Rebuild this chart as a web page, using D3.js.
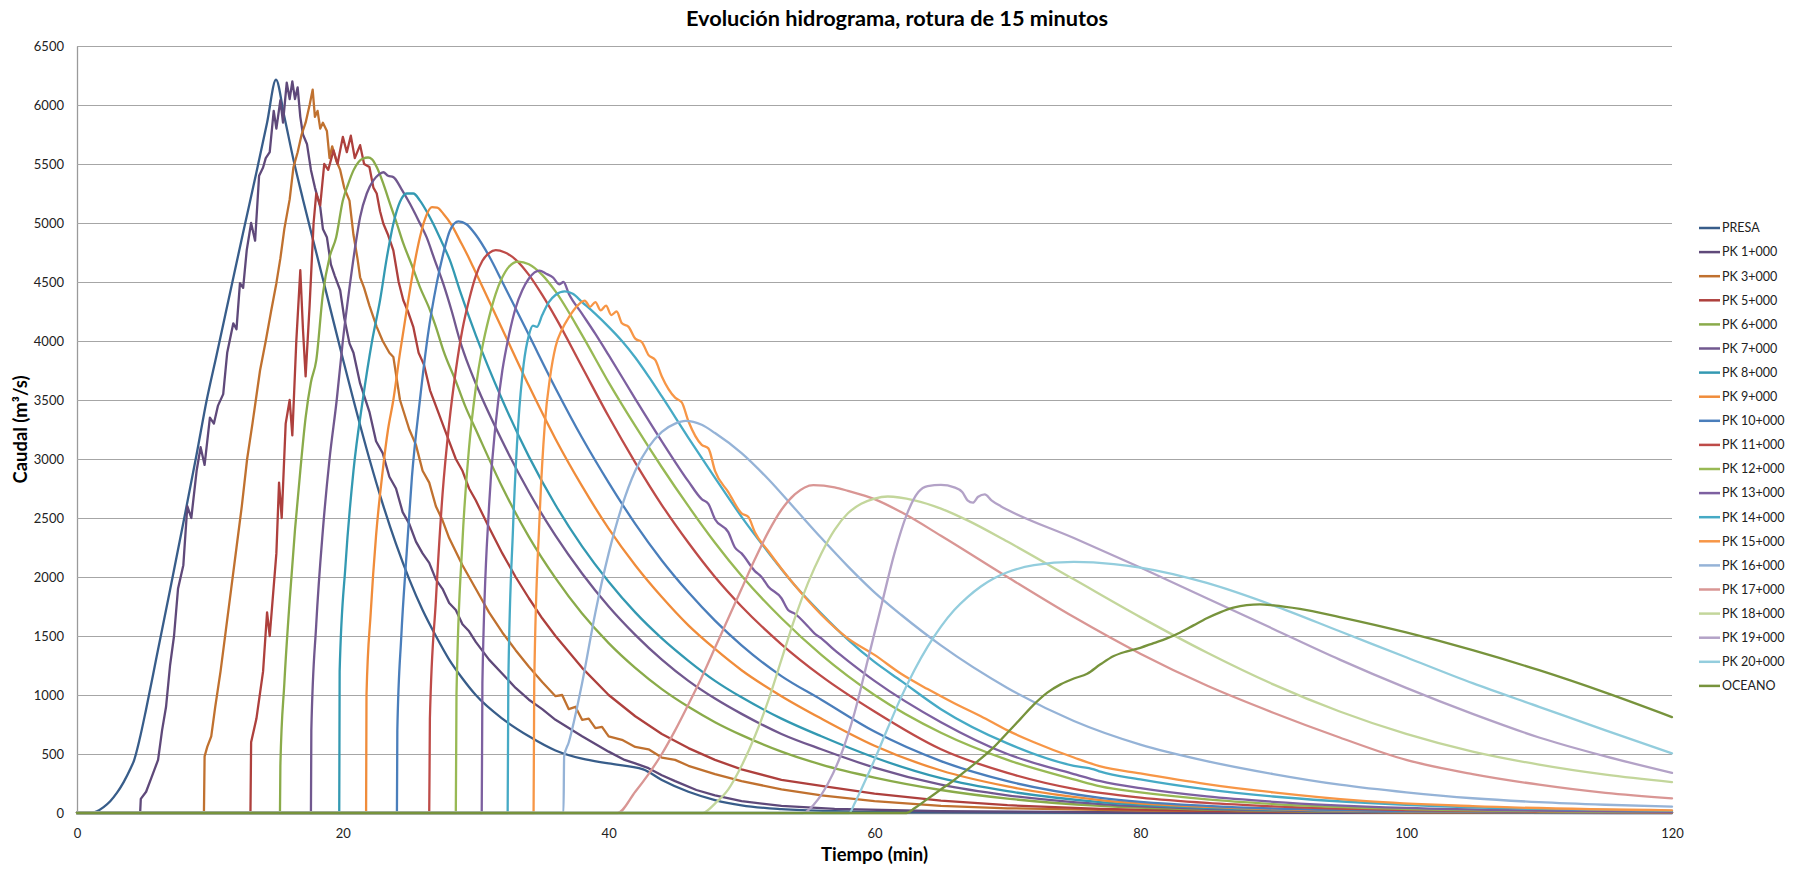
<!DOCTYPE html>
<html><head><meta charset="utf-8">
<script src="https://cdn.jsdelivr.net/npm/d3@7"></script>
<style>body{margin:0;background:#fff}svg{display:block}text{font-family:Lato,"Open Sans",sans-serif}</style>
</head><body><svg id="c" width="1800" height="872"></svg>
<script>
const chartTitle = "Evolución hidrograma, rotura de 15 minutos";
const xTitle = "Tiempo (min)";
const yTitle = "Caudal (m³/s)";
const xTickValues = [0,20,40,60,80,100,120];
const yTickValues = [0,500,1000,1500,2000,2500,3000,3500,4000,4500,5000,5500,6000,6500];
const seriesNames = ["PRESA","PK 1+000","PK 3+000","PK 5+000","PK 6+000","PK 7+000","PK 8+000","PK 9+000","PK 10+000","PK 11+000","PK 12+000","PK 13+000","PK 14+000","PK 15+000","PK 16+000","PK 17+000","PK 18+000","PK 19+000","PK 20+000","OCEANO"];

const presa = [[0,0],[1,0],[1.5,15],[2,50],[2.5,100],[3,170],[3.5,260],[4,370],[4.3,449],[4.7,620],[5.2,880],[6,1330],[7,1890],[8,2460],[9,3040],[9.76,3500],[10.5,3880],[11.5,4400],[12.5,4920],[13.5,5430],[14.3,5850],[14.97,6214],[15.6,5900],[16.3,5530],[17,5200],[18,4750],[19,4300],[20,3850],[20.8,3500],[22,3000],[23,2620],[24,2280],[25,1980],[26,1720],[27,1500],[28,1300],[29,1140],[30,1000],[32,800],[34,650],[36,530],[38,460],[40,420],[42.6,370],[44,280],[46,180],[48,110],[50,65],[53,32],[57,15],[65,5],[80,2],[120,0]];
const pk1 = [[0,0],[4.75,0],[4.8,120],[5.2,180],[5.6,300],[6.1,450],[6.4,700],[6.7,900],[7,1250],[7.3,1500],[7.6,1900],[8,2100],[8.3,2600],[8.6,2500],[9,2900],[9.3,3100],[9.6,2950],[10,3350],[10.3,3300],[10.6,3450],[11,3550],[11.3,3900],[11.76,4150],[12,4100],[12.26,4490],[12.5,4450],[12.77,4770],[13.1,5000],[13.4,4850],[13.7,5400],[14,5470],[14.2,5550],[14.5,5600],[14.8,5950],[15,5800],[15.3,6040],[15.5,5850],[15.78,6190],[16,6050],[16.2,6200],[16.4,6050],[16.6,6150],[16.8,5900],[17,5750],[17.3,5670],[17.6,5450],[17.9,5300],[18.3,5135],[18.5,4950],[18.8,4880],[19.1,4650],[19.4,4550],[19.8,4430],[20.1,4200],[20.5,3980],[20.8,3900],[21.3,3640],[22,3400],[22.5,3150],[23,3050],[23.5,2850],[24,2750],[24.5,2550],[25,2450],[25.5,2300],[26,2200],[26.5,2120],[27,1980],[27.5,1900],[28,1780],[28.5,1720],[29,1600],[29.5,1540],[30,1450],[31,1300],[32,1180],[33,1060],[34,960],[35,880],[36,790],[38,650],[40,520],[41.2,450],[42,420],[43,380],[44,320],[45,270],[46.6,195],[48,150],[50,100],[53,60],[57,35],[65,15],[80,5],[120,1]];
const pk3 = [[0,0],[9.55,0],[9.6,480],[9.8,560],[10.1,650],[10.4,900],[10.8,1200],[11.2,1550],[11.6,1900],[12,2250],[12.4,2600],[12.8,3000],[13.2,3300],[13.77,3750],[14.2,4000],[14.6,4250],[15,4490],[15.3,4700],[15.6,4950],[16,5200],[16.28,5470],[16.6,5600],[16.9,5750],[17.2,5850],[17.5,6000],[17.73,6130],[17.9,5900],[18.1,5950],[18.3,5800],[18.5,5850],[18.8,5780],[19,5550],[19.2,5650],[19.5,5530],[19.8,5450],[20.1,5300],[20.5,5190],[20.8,4900],[21.1,4700],[21.3,4540],[21.6,4450],[22,4300],[22.55,4120],[23,4000],[23.5,3900],[23.8,3865],[24.3,3500],[25,3250],[25.5,3120],[26,2900],[26.5,2800],[27,2600],[27.5,2480],[28,2330],[29,2100],[30,1900],[31,1700],[32,1530],[33,1380],[34,1240],[35,1110],[36,990],[36.5,1000],[37,880],[37.5,900],[38,790],[38.5,800],[39,720],[39.5,730],[40,650],[41,620],[42,560],[43,540],[44,470],[45,450],[46,400],[48,330],[50,270],[53,200],[56,150],[60,100],[65,60],[70,40],[80,20],[100,6],[120,2]];
const pk5 = [[0,0],[13.05,0],[13.1,600],[13.5,800],[14,1200],[14.3,1700],[14.5,1500],[15,2200],[15.2,2800],[15.4,2500],[15.7,3300],[16,3500],[16.2,3200],[16.5,4000],[16.8,4600],[17,4100],[17.2,3700],[17.5,4300],[17.8,5000],[18,5250],[18.3,5150],[18.6,5500],[18.9,5450],[19.3,5615],[19.6,5500],[20,5730],[20.3,5600],[20.6,5740],[20.9,5550],[21.3,5660],[21.6,5500],[22,5474],[22.3,5300],[22.55,5250],[22.8,5100],[23.05,4994],[23.4,4900],[23.8,4768],[24.2,4500],[24.55,4345],[24.9,4250],[25.3,4120],[25.7,3900],[26.1,3800],[26.56,3582],[27,3450],[27.5,3300],[28,3150],[28.5,3000],[29,2900],[29.5,2750],[30,2650],[31,2420],[32,2200],[33,2000],[34,1820],[35,1650],[36,1500],[38,1230],[40,1000],[42,820],[44,670],[46,550],[48,450],[50,370],[53,280],[56,230],[60,165],[65,105],[70,66],[77,35],[85,18],[100,5],[120,1]];
const pk6 = [[0,0],[15.27,0],[15.3,400],[15.6,1100],[16,1800],[16.4,2400],[16.8,2900],[17.2,3350],[17.6,3650],[18,3836],[18.5,4400],[19,4710],[19.5,4880],[20,5190],[20.4,5330],[20.8,5446],[21.2,5520],[21.5,5545],[21.9,5555],[22.2,5540],[22.55,5474],[23.05,5332],[23.55,5163],[24.05,5000],[24.55,4827],[25.2,4640],[25.8,4457],[26.56,4260],[27,4120],[27.56,3921],[28.57,3639],[29.2,3450],[30,3250],[32,2760],[34,2340],[36,1990],[38,1690],[40,1440],[42,1230],[44,1050],[46,900],[48,770],[50,660],[53,520],[56,410],[60,300],[65,195],[70,122],[77,60],[85,29],[100,8],[120,2]];
const pk7 = [[0,0],[17.6,0],[17.63,700],[18,1600],[18.5,2400],[19,3000],[19.54,3500],[20,4000],[20.5,4450],[21,4850],[21.3,5050],[21.8,5250],[22.3,5361],[22.7,5410],[23.05,5430],[23.4,5400],[23.8,5389],[24.4,5290],[25.05,5163],[25.7,5020],[26.3,4880],[26.9,4690],[27.56,4484],[28.2,4250],[28.8,4006],[29.5,3780],[30,3640],[32,3150],[34,2720],[36,2350],[38,2030],[40,1750],[42,1510],[44,1300],[46,1120],[48,970],[50,840],[53,670],[56,540],[60,385],[65,240],[70,150],[77,75],[85,36],[100,10],[120,2]];
const pk8 = [[0,0],[19.73,0],[19.76,1200],[20.2,2100],[20.8,2900],[21.5,3500],[22.2,4000],[22.8,4345],[23.3,4700],[23.8,4994],[24.3,5180],[24.8,5250],[25.3,5250],[25.8,5190],[26.3,5100],[26.8,4994],[27.4,4850],[28.06,4683],[28.8,4430],[30,4050],[32,3500],[34,3020],[36,2610],[38,2260],[40,1960],[42,1700],[44,1480],[46,1290],[48,1120],[50,980],[53,800],[56,650],[60,470],[65,295],[70,185],[77,92],[85,44],[100,12],[120,3]];
const pk9 = [[0,0],[21.75,0],[21.78,1000],[22.1,1700],[22.5,2350],[23,2900],[23.4,3250],[23.8,3500],[24.3,3900],[24.8,4260],[25.3,4600],[25.8,4880],[26.2,5040],[26.7,5135],[27.1,5130],[27.56,5079],[28.2,4980],[28.8,4853],[29.5,4700],[30,4580],[32,4100],[34,3620],[36,3170],[38,2770],[40,2410],[42,2100],[44,1830],[46,1590],[48,1390],[50,1210],[53,990],[56,800],[60,570],[65,360],[70,225],[77,110],[85,52],[100,14],[120,3]];
const pk10 = [[0,0],[24.07,0],[24.1,700],[24.4,1500],[24.8,2200],[25.2,2850],[25.8,3500],[26.4,4050],[27.06,4486],[27.6,4760],[28.06,4937],[28.7,5013],[29.3,4990],[30,4900],[31,4720],[32,4500],[34,4050],[36,3600],[38,3180],[40,2800],[42,2450],[44,2140],[46,1870],[48,1630],[50,1420],[53,1160],[56,960],[60,690],[65,440],[70,270],[77,128],[85,60],[100,16],[120,3]];
const pk11 = [[0,0],[26.5,0],[26.55,800],[27,1800],[27.5,2700],[28,3300],[28.5,3750],[29,4100],[29.5,4350],[30,4550],[30.5,4680],[31,4745],[31.5,4770],[32.2,4750],[33,4690],[34,4560],[35,4390],[36,4200],[38,3780],[40,3360],[42,2970],[44,2610],[46,2290],[48,2000],[50,1750],[53,1430],[56,1160],[60,860],[65,540],[70,340],[75,205],[77,170],[80,130],[85,85],[90,56],[100,24],[110,10],[120,4]];
const pk12 = [[0,0],[28.5,0],[28.55,1000],[29,2300],[29.5,3100],[30,3600],[30.5,3950],[31,4200],[31.5,4400],[32,4540],[32.5,4630],[33.2,4673],[34,4650],[35,4560],[36,4420],[38,4050],[40,3650],[42,3280],[44,2930],[46,2600],[48,2290],[50,2010],[53,1650],[56,1340],[60,1000],[65,680],[70,450],[75,285],[77,225],[80,175],[85,115],[90,76],[100,34],[110,15],[120,7]];
const pk13 = [[0,0],[30.45,0],[30.5,1100],[31,2600],[31.5,3300],[32,3750],[32.5,4050],[33,4280],[33.5,4430],[34,4530],[34.8,4596],[35.3,4570],[35.8,4540],[36.3,4480],[36.6,4500],[37,4400],[38,4230],[39,4060],[40,3880],[42,3510],[44,3150],[46,2810],[47,2660],[47.5,2620],[48,2490],[49,2380],[49.5,2250],[50,2200],[51,2050],[51.5,2000],[52,1920],[53,1820],[53.5,1720],[54,1690],[55,1580],[55.5,1520],[56,1480],[57,1380],[58,1290],[60,1120],[65,770],[70,500],[75,330],[77,270],[80,210],[85,140],[90,95],[100,43],[110,20],[120,9]];
const pk14 = [[0,0],[32.4,0],[32.45,1100],[32.8,2400],[33.2,3300],[33.6,3800],[34,4050],[34.3,4130],[34.6,4120],[35,4220],[35.5,4330],[36,4390],[36.7,4420],[37.3,4400],[38,4330],[39,4230],[40,4120],[41,4000],[42,3860],[43,3700],[44,3530],[46,3180],[48,2840],[50,2510],[52,2210],[54,1930],[56,1690],[58,1470],[60,1280],[62,1120],[65,880],[70,590],[75,400],[76.5,370],[77,350],[80,285],[85,200],[90,140],[100,70],[110,35],[120,18]];
const pk15 = [[0,0],[34.35,0],[34.4,1100],[34.8,2500],[35.2,3300],[35.6,3700],[36,3950],[36.5,4100],[37,4200],[37.5,4280],[38.2,4343],[38.6,4290],[39,4330],[39.4,4260],[39.8,4300],[40.2,4220],[40.6,4250],[41,4150],[41.5,4120],[42,4020],[42.5,3990],[43,3880],[43.5,3840],[44,3700],[45,3520],[45.5,3480],[46,3320],[47,3120],[47.5,3090],[48,2900],[49,2720],[50,2540],[50.5,2510],[51,2380],[52,2220],[53,2070],[54,1930],[55,1800],[56,1680],[58,1480],[60,1340],[62,1180],[64,1050],[66,930],[68,820],[70,700],[72,600],[75,470],[77,395],[80,335],[85,245],[90,175],[97,100],[105,58],[120,22]];
const pk16 = [[0,0],[36.6,0],[36.65,480],[37,600],[38,1100],[39,1700],[40,2200],[41,2600],[42,2900],[43,3100],[44,3230],[45,3300],[45.8,3323],[47,3290],[48,3220],[50,3050],[52,2830],[54,2580],[56,2330],[58,2090],[60,1870],[62,1680],[65,1420],[70,1060],[75,780],[80,580],[85,440],[90,330],[95,240],[100,175],[105,125],[110,92],[115,70],[120,54]];
const pk17 = [[0,0],[40.65,0],[42,180],[43,330],[44,500],[45,700],[46,920],[47,1150],[48,1400],[49,1650],[50,1900],[51,2150],[52,2380],[53,2570],[54,2700],[55.4,2779],[57,2760],[58,2730],[60,2660],[62,2550],[65,2350],[70,2000],[75,1660],[80,1350],[85,1080],[90,850],[95,640],[100,450],[105,330],[110,240],[115,170],[120,124]];
const pk18 = [[0,0],[47.05,0],[48,80],[49,200],[50,400],[51,650],[52,950],[53,1300],[54,1650],[55,1950],[56,2200],[57,2400],[58,2540],[59,2620],[60,2665],[61,2682],[63,2650],[65,2580],[67,2480],[70,2300],[75,1980],[80,1660],[85,1360],[90,1090],[95,860],[100,670],[105,520],[110,410],[115,325],[120,262]];
const pk19 = [[0,0],[54.6,0],[55.5,80],[56.5,250],[57.5,500],[58.5,850],[59.5,1300],[60.5,1750],[61.5,2200],[62.5,2550],[63.3,2720],[64,2770],[65,2780],[66,2760],[66.6,2720],[67,2650],[67.4,2630],[67.8,2680],[68.3,2700],[68.8,2650],[69.5,2600],[70,2570],[75,2330],[80,2080],[85,1820],[90,1560],[95,1300],[100,1060],[105,840],[110,640],[115,480],[120,340]];
const pk20 = [[0,0],[58.1,0],[58.5,80],[59,200],[60,450],[61,720],[62,980],[63,1210],[64,1410],[65,1580],[66,1720],[67,1830],[68,1920],[69,1990],[70,2040],[72,2100],[75,2128],[78,2110],[80,2080],[85,1950],[90,1760],[95,1540],[100,1320],[105,1100],[110,900],[115,700],[120,505]];
const oceano = [[0,0],[62.4,0],[63,40],[64,120],[65,200],[66,280],[67,370],[68,460],[69,560],[70,680],[71,800],[72,920],[73,1020],[74,1090],[75,1140],[76,1180],[77,1260],[78,1330],[79,1370],[80,1400],[81,1440],[82,1480],[83,1530],[84,1590],[85,1650],[86,1700],[87,1740],[88,1762],[89,1768],[90,1760],[92,1730],[95,1660],[100,1530],[105,1380],[110,1210],[115,1020],[120,813]];

const seriesValues = [presa,pk1,pk3,pk5,pk6,pk7,pk8,pk9,pk10,pk11,pk12,pk13,pk14,pk15,pk16,pk17,pk18,pk19,pk20,oceano];
const seriesColors = ["#385D8A","#5F497A","#C0712F","#AE403D","#8AAB4A","#71588F","#3399B2","#F08C3A","#4A7EBB","#BE4B48","#98B954","#7D60A0","#46AAC5","#F79646","#95B3D7","#D99694","#C3D69B","#B3A2C7","#93CDDD","#77933C"];
const jaggedSeries = ["PK 1+000","PK 3+000","PK 5+000"];

const svg = d3.select("#c");
const L = 77, R = 1672, T = 46, B = 813;
const x = d3.scaleLinear().domain([0,120]).range([L,R]);
const y = d3.scaleLinear().domain([0,6500]).range([B,T]);

const gy = svg.append("g").attr("transform",`translate(${L},0)`)
  .call(d3.axisLeft(y).tickValues(yTickValues).tickSize(-(R-L)).tickSizeOuter(0).tickPadding(13).tickFormat(d3.format("d")));
gy.select(".domain").attr("stroke","#9a9a9a").attr("stroke-width",1.3);
gy.selectAll(".tick line").attr("stroke","#a6a6a6").attr("stroke-width",1.2);
gy.selectAll(".tick text").attr("font-size",13).attr("fill","#222").attr("font-family","Lato");

const gx = svg.append("g").attr("transform",`translate(0,${B})`)
  .call(d3.axisBottom(x).tickValues(xTickValues).tickSize(0).tickPadding(16));
gx.select(".domain").attr("stroke","#9a9a9a").attr("stroke-width",1.3);
gx.selectAll(".tick text").attr("font-size",13).attr("fill","#222").attr("font-family","Lato");

const smoothLine = d3.line().x(d=>x(d[0])).y(d=>y(d[1])).curve(d3.curveMonotoneX);
const sharpLine = d3.line().x(d=>x(d[0])).y(d=>y(d[1]));
svg.append("g").selectAll("path").data(seriesValues).join("path")
  .attr("d",(d,i)=> jaggedSeries.includes(seriesNames[i]) ? sharpLine(d) : smoothLine(d))
  .attr("fill","none")
  .attr("stroke",(d,i)=>seriesColors[i]).attr("stroke-width",2.3)
  .attr("stroke-linejoin","round").attr("stroke-linecap","round");

svg.append("text").attr("x",897).attr("y",26).attr("text-anchor","middle")
  .attr("font-size",20).attr("font-weight","bold").attr("fill","#000")
  .attr("textLength",422).attr("lengthAdjust","spacingAndGlyphs").text(chartTitle);
svg.append("text").attr("x",(L+R)/2).attr("y",861).attr("text-anchor","middle")
  .attr("font-size",18).attr("font-weight","bold").attr("fill","#000")
  .attr("textLength",107).attr("lengthAdjust","spacingAndGlyphs").text(xTitle);
svg.append("text").attr("transform",`translate(27,${(T+B)/2}) rotate(-90)`).attr("text-anchor","middle")
  .attr("font-size",18).attr("font-weight","bold").attr("fill","#000")
  .attr("textLength",108).attr("lengthAdjust","spacingAndGlyphs").text(yTitle);

const lg = svg.append("g");
seriesNames.forEach((n,i)=>{
  const yy = 228 + i*24.1;
  lg.append("line").attr("x1",1699).attr("x2",1720).attr("y1",yy).attr("y2",yy)
    .attr("stroke",seriesColors[i]).attr("stroke-width",2.5);
  lg.append("text").attr("x",1722).attr("y",yy).attr("dy","0.35em")
    .attr("font-size",12.5).attr("fill","#222").text(n);
});
</script></body></html>
